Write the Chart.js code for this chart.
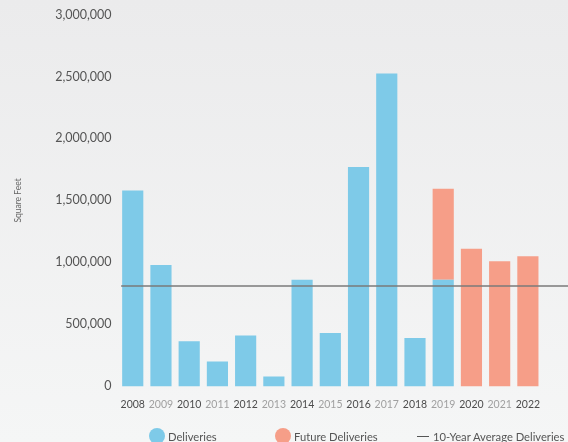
<!DOCTYPE html>
<html><head><meta charset="utf-8">
<script src="https://cdn.jsdelivr.net/npm/chart.js@4/dist/chart.umd.min.js"></script>
<style>
html,body{margin:0;padding:0;}
body{width:568px;height:442px;background:linear-gradient(to bottom,#ebebec,#f5f6f6);overflow:hidden;font-family:Lato,sans-serif}
#wrap{width:568px;height:442px;position:relative}
#legend{position:absolute;left:0;top:428px;width:568px;height:16px;}
.li{position:absolute;top:0;height:16px;display:flex;align-items:center;font-size:11.2px;color:#555;white-space:nowrap}
.dot{width:16px;height:16px;border-radius:50%;margin-right:3px}
.ln{width:12px;height:0;border-top:1.3px solid #555;margin-right:4px}
</style></head><body>
<div id="wrap"><canvas id="c"></canvas><div id="legend"></div></div>
<script>
const years = ['2008','2009','2010','2011','2012','2013','2014','2015','2016','2017','2018','2019','2020','2021','2022'];
const deliveries = [1580000, 980000, 365000, 200000, 410000, 80000, 860000, 430000, 1770000, 2525000, 390000, 860000, null, null, null];
const futureDeliveries = [null, null, null, null, null, null, null, null, null, null, null, 735000, 1110000, 1010000, 1050000];
const avgDeliveries = 810000;
const yMax = 3000000;
const yStep = 500000;
const avgLabel = '10-Year Average Deliveries';

const blue = '#7ECAE8';
const salmon = '#F69E88';
const FONT = "Lato, 'Open Sans', sans-serif";

const avgLine = {
  id: 'avgLine',
  afterDatasetsDraw(chart) {
    const y = chart.scales.y.getPixelForValue(avgDeliveries);
    const bar = chart.getDatasetMeta(0).data[0];
    const x0 = bar.x - bar.width / 2 - 1;
    const ctx = chart.ctx;
    ctx.save();
    ctx.strokeStyle = '#7a7a7a';
    ctx.lineWidth = 1.5;
    ctx.beginPath();
    ctx.moveTo(x0, y);
    ctx.lineTo(chart.width, y);
    ctx.stroke();
    ctx.restore();
  }
};

const chart = new Chart(document.getElementById('c'), {
  type: 'bar',
  data: {
    labels: years,
    datasets: [
      { label: 'Deliveries', data: deliveries, backgroundColor: blue, stack: 's' },
      { label: 'Future Deliveries', data: futureDeliveries, backgroundColor: salmon, stack: 's' }
    ]
  },
  options: {
    responsive: true,
    maintainAspectRatio: false,
    animation: false,
    layout: { padding: { top: 12, left: 0, right: 0, bottom: 19 } },
    datasets: { bar: { categoryPercentage: 1.0, barPercentage: 0.75 } },
    plugins: {
      tooltip: { enabled: false },
      legend: { display: false }
    },
    scales: {
      x: {
        stacked: true,
        grid: { display: false, drawTicks: false },
        border: { display: false },
        ticks: {
          padding: 12,
          maxRotation: 0,
          autoSkip: false,
          font: { family: FONT, size: 10.5 },
          color: (ctx) => (ctx.index % 2 === 0 ? '#4d4d4d' : '#a0a0a0')
        }
      },
      y: {
        stacked: true,
        min: 0,
        max: yMax,
        grid: { display: false, drawTicks: false },
        border: { display: false },
        title: { display: true, text: 'Square Feet', color: '#666', font: { family: FONT, size: 8.5 }, padding: { top: 13, bottom: 25 } },
        ticks: {
          stepSize: yStep,
          padding: 7,
          color: '#555',
          font: { family: FONT, size: 12.5 },
          callback: (v) => v.toLocaleString('en-US')
        }
      },
      y2: {
        position: 'right',
        grid: { display: false, drawTicks: false },
        border: { display: false },
        ticks: { display: false },
        afterFit(s) { s.width = 26; }
      }
    }
  },
  plugins: [avgLine]
});

// HTML legend built from the chart's datasets
const legendLefts = [149, 275, 417];
const lg = document.getElementById('legend');
chart.data.datasets.forEach((ds, i) => {
  const it = document.createElement('div');
  it.className = 'li';
  it.style.left = legendLefts[i] + 'px';
  const d = document.createElement('span');
  d.className = 'dot';
  d.style.background = ds.backgroundColor;
  it.appendChild(d);
  it.appendChild(document.createTextNode(ds.label));
  lg.appendChild(it);
});
const it3 = document.createElement('div');
it3.className = 'li';
it3.style.left = legendLefts[2] + 'px';
const l3 = document.createElement('span');
l3.className = 'ln';
it3.appendChild(l3);
it3.appendChild(document.createTextNode(avgLabel));
lg.appendChild(it3);
</script>
</body></html>
